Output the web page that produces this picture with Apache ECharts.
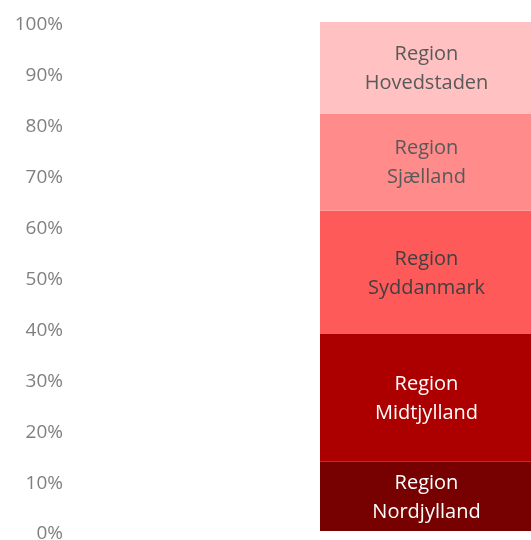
<!DOCTYPE html>
<html>
<head>
<meta charset="utf-8">
<script src="https://cdn.jsdelivr.net/npm/echarts@6/dist/echarts.min.js"></script>
<style>html,body{margin:0;padding:0;background:#fff;}#c{width:531px;height:540px;}</style>
</head>
<body>
<div id="c"></div>
<script>
const categories = ['Regioner'];
const seriesNames = ['Region Nordjylland', 'Region Midtjylland', 'Region Syddanmark', 'Region Sjælland', 'Region Hovedstaden'];
const seriesValues = [13.6, 25.1, 24.2, 19.1, 18.0];
const seriesColors = ['#770000', '#AC0000', '#FF5A5A', '#FF8B8B', '#FFC1C1'];
const labelColors = ['#ffffff', '#ffffff', '#404040', '#595959', '#595959'];

const chart = echarts.init(document.getElementById('c'));
chart.setOption({
  animation: false,
  grid: { left: 320, right: -4, top: 22, bottom: 9, containLabel: false, outerBoundsMode: 'none' },
  xAxis: { type: 'category', data: categories, show: false },
  yAxis: {
    type: 'value', min: 0, max: 100, interval: 10,
    axisLine: { show: false }, axisTick: { show: false }, splitLine: { show: false },
    axisLabel: {
      formatter: '{a|{value}%}', margin: 257,
      rich: { a: { color: '#808080', fontSize: 19, fontFamily: 'Open Sans', padding: [6, 0, 0, 0] } }
    }
  },
  series: seriesNames.map((name, i) => ({
    name: name,
    type: 'bar',
    stack: 'total',
    barWidth: '100%',
    data: [seriesValues[i]],
    itemStyle: { color: seriesColors[i] },
    label: {
      show: true, position: 'inside',
      formatter: name.replace(' ', '\n'),
      color: labelColors[i], fontSize: 20, fontFamily: 'Open Sans', lineHeight: 29, align: 'center',
      offset: [-1, 1]
    }
  }))
});
</script>
</body>
</html>
